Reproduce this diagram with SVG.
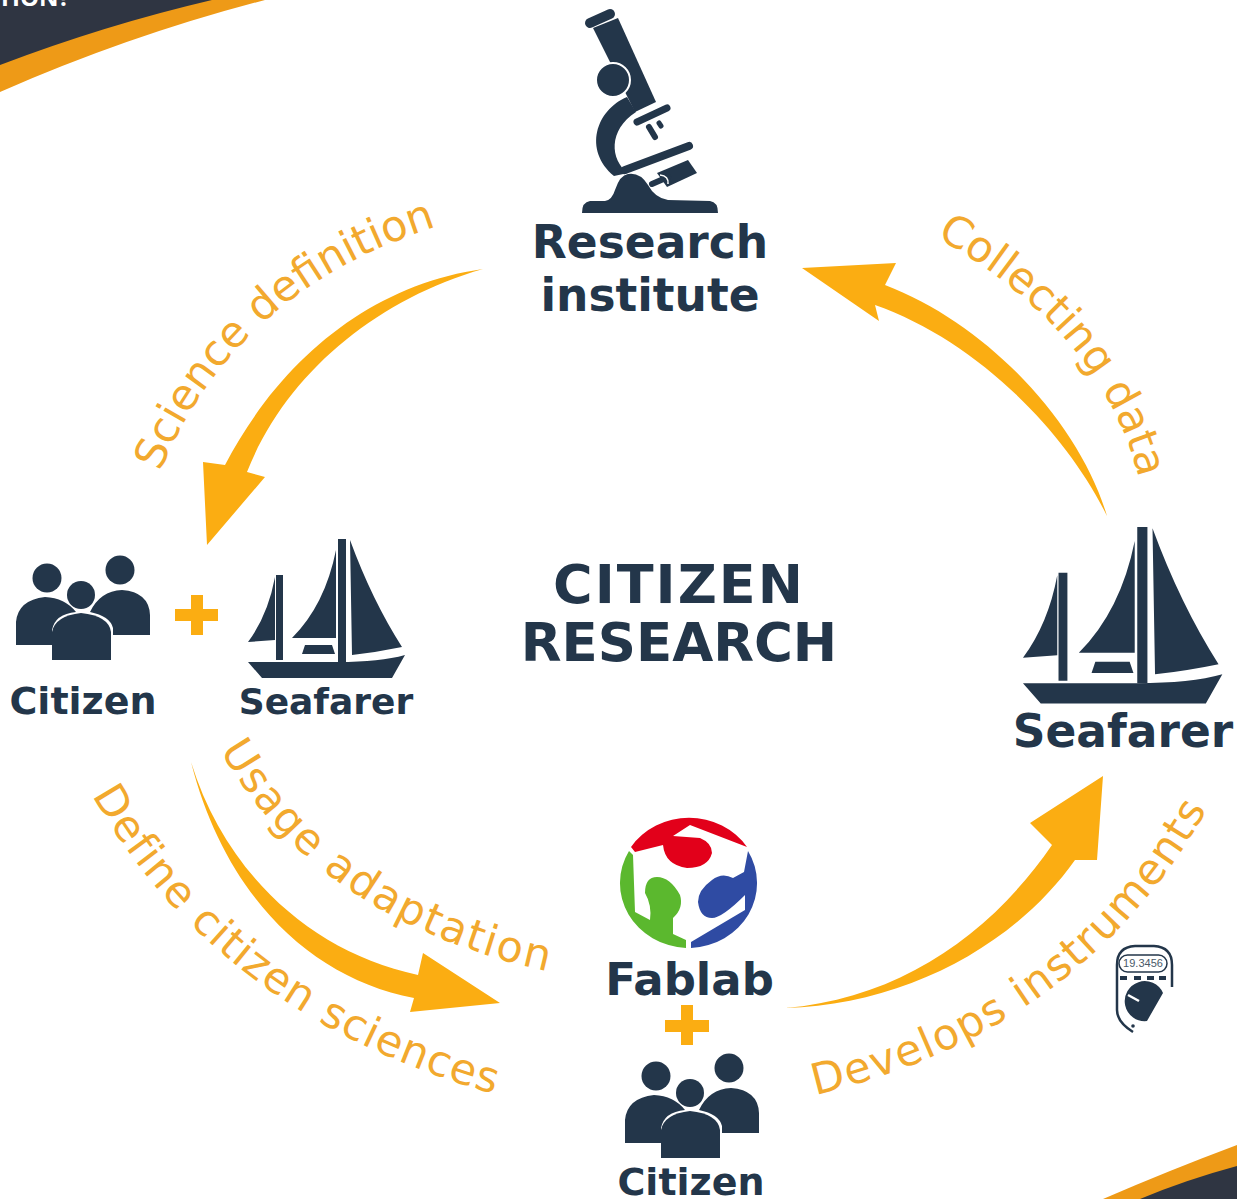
<svg xmlns="http://www.w3.org/2000/svg" xmlns:xlink="http://www.w3.org/1999/xlink" width="1237" height="1199" viewBox="0 0 1237 1199">
<style>
.d{fill:#23364a}
.l{font-family:"DejaVu Sans",sans-serif;font-weight:700;fill:#23364a;text-anchor:middle}
.c{font-family:"DejaVu Sans",sans-serif;font-size:43px;fill:#f2a92e}
.a{fill:#fbad12}
.p{fill:none;stroke:#fbad12;stroke-width:12}
.m{fill:none;stroke:#23364a;stroke-linecap:round}
</style>
<defs>
<path id="t1" d="M160 472Q235 290 438 226"/>
<path id="t2" d="M936 237Q1100 330 1138 475"/>
<path id="t3" d="M220 750Q320 925 560 974"/>
<path id="t4" d="M92 795Q220 1020 505 1097"/>
<path id="t5" d="M815 1095Q1090 1030 1215 795"/>
<g id="people">
<circle class="d" cx="47" cy="578" r="14.5"/><circle class="d" cx="120" cy="570" r="14.5"/>
<path class="d" d="M16 645V622Q18 600 45 597Q65 598 76 612Q55 614 52 630V645Z"/>
<path class="d" d="M90 612Q100 591 122 590Q149 592 150 615V635H113V628Q110 616 90 612Z"/>
<circle class="d" cx="81" cy="595" r="14"/>
<path class="d" d="M52 660V632Q55 616 81 613Q109 616 111 632V660Z"/>
</g>
<g id="boat">
<path class="d" d="M338 539H346V662H338ZM276 575H283V660H276Z"/>
<path class="d" d="M275 577Q268 615 248 642L275 640Z"/>
<path class="d" d="M336 550Q325 605 292 638L336 638Z"/>
<path class="d" d="M350 540Q372 600 402 647Q378 652 352 655Z"/>
<path class="d" d="M305 645H332L335 654H302Z"/>
<path class="d" d="M248 662H338Q380 662 405 655L392 678H262Z"/>
</g>
</defs>

<g id="banner-top">
<path fill="#ee9a17" d="M0 92Q130 35 265 0H0Z"/>
<path fill="#2f3542" d="M0 65Q105 25 212 0H0Z"/>
<text x="70" y="6" text-anchor="end" font-family="'Open Sans',sans-serif" font-weight="700" font-size="24" fill="#fff">TION?</text>
</g>
<g id="banner-bottom">
<path fill="#ee9a17" d="M1103 1199Q1170 1170 1237 1145V1199Z"/>
<path fill="#2f3542" d="M1140 1199Q1185 1180 1237 1166V1199Z"/>
</g>

<g id="connectors">
<path class="a" d="M483 269C370 285 280 360 225 465L203 462L207 545L265 477L247 472C285 375 375 300 483 269Z"/>
<path class="a" d="M1107 516C1080 425 990 325 885 285L896 263L802 268L879 321L875 305C975 340 1065 430 1107 516Z"/>
<path class="a" d="M191 762C225 872 310 952 418 975L423 953L500 1003L410 1012L414 998C310 978 225 895 191 762Z"/>
<path class="a" d="M785 1008C900 998 990 935 1052 845L1030 823L1103 776L1097 860L1075 860C1015 945 905 1005 785 1008Z"/>
</g>

<g id="label-science"><text class="c"><textPath xlink:href="#t1" href="#t1">Science definition</textPath></text></g>
<g id="label-collecting"><text class="c"><textPath xlink:href="#t2" href="#t2">Collecting data</textPath></text></g>
<g id="label-usage"><text class="c" letter-spacing="1.8"><textPath xlink:href="#t3" href="#t3">Usage adaptation</textPath></text></g>
<g id="label-define"><text class="c" letter-spacing="1"><textPath xlink:href="#t4" href="#t4">Define citizen sciences</textPath></text></g>
<g id="label-develops"><text class="c" letter-spacing="1.5"><textPath xlink:href="#t5" href="#t5">Develops instruments</textPath></text></g>

<g id="research-institute">
<path class="m" stroke-width="10" d="M590 23L610 14"/>
<path class="d" d="M593 28L618 18L656 102L635 112Z"/>
<path class="d" d="M627 97C596 110 583 150 614 176L628 173C610 160 608 130 636 112Z"/>
<circle class="d" cx="613" cy="80" r="17" stroke="#fff" stroke-width="2"/>
<path class="m" stroke-width="8" d="M625 170L689 146"/>
<path class="m" stroke-width="7" d="M637 122L667 108"/>
<path class="m" stroke-width="6" d="M649 127L655 137"/>
<path class="m" stroke-width="5" d="M659 123L661 126"/>
<path class="d" d="M582 213Q582 202 590 201H605Q612 200 615 190Q620 175 628 174Q640 172 648 185Q655 198 668 200L710 201Q718 202 718 213Z"/>
<path class="d" d="M657 173L688 160L697 173L667 187Z"/>
<path class="m" stroke-width="6" d="M652 184L668 177"/>
<path fill="none" stroke="#fff" stroke-width="1.5" d="M660 175Q669 176 668 184"/>
<text class="l" x="650" y="258" font-size="45.5">Research</text>
<text class="l" x="650" y="311" font-size="45.5">institute</text>
</g>

<g id="title">
<text class="l" x="679" y="603" font-size="54" letter-spacing="2">CITIZEN</text>
<text class="l" x="679" y="661" font-size="53">RESEARCH</text>
</g>

<g id="citizen-left">
<use href="#people"/>
<text class="l" x="83" y="714" font-size="38">Citizen</text>
</g>
<g id="plus-left"><path class="p" d="M175 615H218M197 595V635"/></g>
<g id="seafarer-left">
<use href="#boat"/>
<text class="l" x="326" y="714" font-size="36">Seafarer</text>
</g>
<g id="seafarer-right">
<use href="#boat" transform="translate(708 -157.5) scale(1.27)"/>
<text class="l" x="1123" y="747" font-size="45.5">Seafarer</text>
</g>

<g id="fablab">
<path fill="#e2001a" d="M631 847A69.500 65 0 0 1 747 847L690 825L673 836L700 838Q712 843 712 853Q708 868 687 868Q665 865 663 845L635 852Z"/>
<path fill="#5bb82e" d="M629 851A69.500 65 0 0 0 686 948V940L673 934V918Q684 908 680 895Q670 877 657 877Q645 877 645 893Q652 905 650 920L635 912L633 855Z"/>
<path fill="#2f4ba3" d="M691 948A69.500 65 0 0 0 748 851L744 872L733 878Q722 872 712 880Q698 890 698 902Q700 918 712 918Q722 918 745 895V910L691 942Z"/>
<text class="l" x="689.500" y="995" font-size="45">Fablab</text>
</g>
<g id="plus-bottom"><path class="p" d="M665 1026H709M687 1005V1045"/></g>
<g id="citizen-bottom">
<use href="#people" transform="translate(609 498)"/>
<text class="l" x="691" y="1195" font-size="38">Citizen</text>
</g>

<g id="multimeter">
<path fill="none" stroke="#23364a" stroke-width="2.5" d="M1133 1032Q1117 1022 1117 1010V965Q1117 947 1135 946H1154Q1172 947 1172 965V987"/>
<rect x="1119" y="955" width="48" height="17" rx="8.500" fill="#fff" stroke="#23364a" stroke-width="1.500"/>
<text x="1143" y="967" text-anchor="middle" font-family="'Liberation Sans',sans-serif" font-size="11" fill="#4a5a68">19.3456</text>
<path fill="#23364a" d="M1120 976h7v4h-7zM1134 976h7v4h-7zM1147 976h7v4h-7zM1159 976h7v4h-7z"/>
<path fill="#23364a" d="M1147 1021A20 20 0 1 1 1163 993Z"/>
<path stroke="#fff" stroke-width="2.500" d="M1128 995L1139 1001"/>
<circle cx="1133" cy="1026" r="1.800" fill="#23364a"/>
</g>
</svg>
